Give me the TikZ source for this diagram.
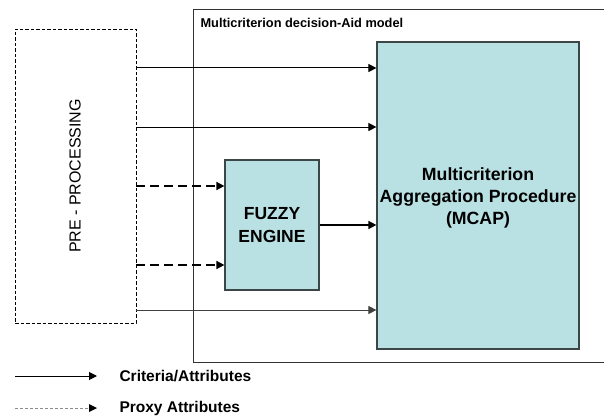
\documentclass[tikz,border=0pt]{standalone}
\usepackage{fontspec}
\setmainfont{Liberation Sans}
\usetikzlibrary{arrows.meta,calc}
\definecolor{boxfill}{RGB}{185,224,227}
\definecolor{boxedge}{RGB}{60,70,70}
\tikzset{
  arr/.style={-{Triangle[length=8pt,width=8pt]}, line width=1pt},
  dasharr/.style={-{Triangle[length=8pt,width=8pt]}, line width=1.6pt, dash pattern=on 9pt off 5pt},
  procbox/.style={draw=boxedge, fill=boxfill, line width=1.2pt, inner sep=0pt, font=\bfseries, align=center},
  prebox/.style={draw, dash pattern=on 3.5pt off 2pt, line width=0.8pt, inner sep=0pt},
  legtext/.style={anchor=west, font=\fontsize{15.5}{18}\selectfont\bfseries},
}
\begin{document}
\begin{tikzpicture}[x=1pt,y=-1pt]
\useasboundingbox (0,0) rectangle (604,417);
% outer model frame (right side cut off)
\coordinate (frameTR) at (606,10);
\coordinate (frameTL) at (193,10);
\coordinate (frameBL) at (193,362);
\coordinate (frameBR) at (606,362);
\draw[line width=1pt, draw=black!80] (frameTR) -- (frameTL) -- (frameBL) -- (frameBR);
\node[anchor=west, font=\fontsize{12.8}{15}\selectfont\bfseries] (title) at (197,23) {Multicriterion decision-Aid model};
% pre-processing
\node[prebox, minimum width=121pt, minimum height=294pt] (pre) at (75.5,176) {};
\node[rotate=90, font=\fontsize{16}{19}\selectfont] (pretext) at (75,176) {PRE - PROCESSING};
% fuzzy engine
\node[procbox, minimum width=94pt, minimum height=130pt, font=\fontsize{17.5}{23}\selectfont\bfseries] (fuzzy) at (272,225) {FUZZY\\ENGINE};
% MCAP
\node[procbox, minimum width=202pt, minimum height=307pt] (mcap) at (478,195.5) {};
\node[font=\fontsize{17.7}{22}\selectfont\bfseries, align=center] (mcaptext) at (478,198) {Multicriterion\\Aggregation Procedure\\(MCAP)};
% connectors
\draw[arr] (pre.east |- 0,68) -- (mcap.west |- 0,68);
\draw[arr] (pre.east |- 0,127) -- (mcap.west |- 0,127);
\draw[dasharr] (pre.east |- 0,186) -- (fuzzy.west |- 0,186);
\draw[dasharr] (pre.east |- 0,265) -- (fuzzy.west |- 0,265);
\draw[arr, line width=1.4pt] (fuzzy.east |- 0,225) -- (mcap.west |- 0,225);
\draw[arr, line width=0.9pt, draw=black!75] (pre.east |- 0,310) -- (mcap.west |- 0,310);
% legend
\coordinate (l1s) at (15,376);
\coordinate (l1e) at (97,376);
\coordinate (l2s) at (15,408);
\coordinate (l2e) at (97,408);
\draw[arr] (l1s) -- (l1e);
\draw[draw=black!45, line width=0.8pt, dash pattern=on 3pt off 2pt] (l2s) -- ($(l2e)+(-7,0)$);
\fill (l2e) -- ++(-8,-4) -- ++(0,8) -- cycle;
\node[legtext] (leg1) at (116,376) {Criteria/Attributes};
\node[legtext] (leg2) at (116,408) {Proxy Attributes};
\end{tikzpicture}
\end{document}
